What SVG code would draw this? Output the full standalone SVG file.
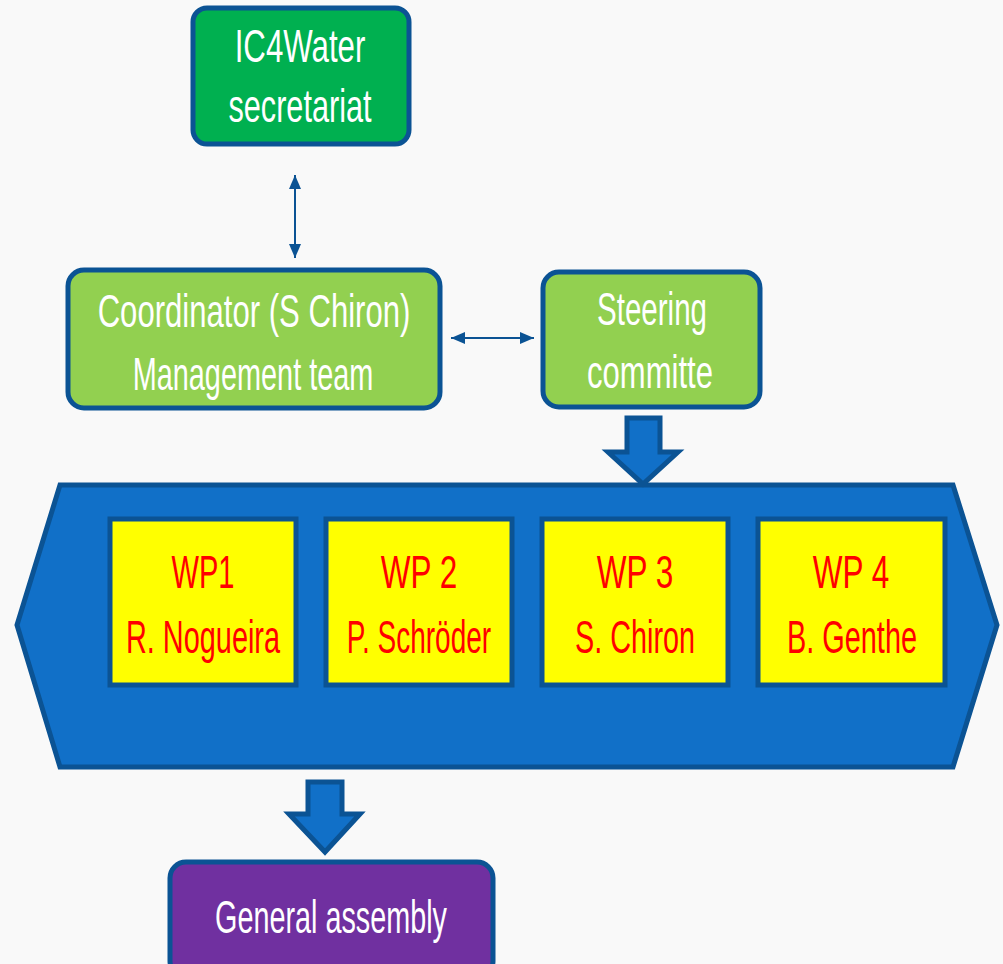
<svg xmlns="http://www.w3.org/2000/svg" width="1003" height="964" viewBox="0 0 1003 964">
<style>
.box{stroke:#0B5394;stroke-width:5}
.green{fill:#00B050}
.lgreen{fill:#92D050}
.purple{fill:#7030A0}
.yellow{fill:#FFFF00;stroke:#0B5394;stroke-width:5}
.blue{fill:#1170C8;stroke:#0B5394;stroke-width:5;stroke-linejoin:miter}
.t{font-family:"Liberation Sans",Arial,sans-serif;font-size:46px;fill:#FFFFFF;text-anchor:middle}
.r{fill:#FF0000}
.conn{stroke:#0B5394;stroke-width:2;fill:none}
</style>
<defs>
<marker id="ah" viewBox="0 0 14 12" refX="14" refY="6" markerWidth="14" markerHeight="12" markerUnits="userSpaceOnUse" orient="auto-start-reverse">
<path d="M0,0 L14,6 L0,12 z" fill="#0B5394"/>
</marker>
</defs>
<rect width="1003" height="964" fill="#F9F9F9"/>

<g id="connectors">
<line class="conn" x1="295" y1="175" x2="295" y2="258" marker-start="url(#ah)" marker-end="url(#ah)"/>
<line class="conn" x1="451" y1="338" x2="534" y2="338" marker-start="url(#ah)" marker-end="url(#ah)"/>
</g>

<g id="secretariat">
<rect class="box green" x="193" y="8" width="216" height="136" rx="14"/>
<text class="t" transform="translate(300,62) scale(0.679,1)">IC4Water</text>
<text class="t" transform="translate(300,122) scale(0.666,1)">secretariat</text>
</g>

<g id="coordinator">
<rect class="box lgreen" x="68" y="270" width="372" height="138" rx="16"/>
<text class="t" transform="translate(254,327) scale(0.676,1)">Coordinator (S Chiron)</text>
<text class="t" transform="translate(253,390) scale(0.628,1)">Management team</text>
</g>

<g id="steering">
<rect class="box lgreen" x="543" y="272" width="217" height="135" rx="16"/>
<text class="t" transform="translate(652,325) scale(0.642,1)">Steering</text>
<text class="t" transform="translate(650,388) scale(0.675,1)">committe</text>
</g>

<g id="workpackages">
<polygon class="blue" points="17,625 60,485 953,485 997,625 953,767 60,767"/>
</g>

<g id="arrow-down-steering">
<polygon class="blue" points="627,418 660,418 660,452 678,452 643,484 608,452 627,452"/>
</g>

<g id="wp1">
<rect class="yellow" x="110" y="519" width="186" height="166"/>
<text class="t r" transform="translate(203,588) scale(0.632,1)">WP1</text>
<text class="t r" transform="translate(203,653) scale(0.628,1)">R. Nogueira</text>
</g>
<g id="wp2">
<rect class="yellow" x="326" y="519" width="186" height="166"/>
<text class="t r" transform="translate(419,588) scale(0.685,1)">WP 2</text>
<text class="t r" transform="translate(419,653) scale(0.609,1)">P. Schröder</text>
</g>
<g id="wp3">
<rect class="yellow" x="542" y="519" width="186" height="166"/>
<text class="t r" transform="translate(635,588) scale(0.685,1)">WP 3</text>
<text class="t r" transform="translate(635,653) scale(0.626,1)">S. Chiron</text>
</g>
<g id="wp4">
<rect class="yellow" x="758" y="519" width="187" height="166"/>
<text class="t r" transform="translate(851,588) scale(0.685,1)">WP 4</text>
<text class="t r" transform="translate(852,653) scale(0.628,1)">B. Genthe</text>
</g>

<g id="arrow-down-assembly">
<polygon class="blue" points="308,782 342,782 342,814 360,814 325,852 289,814 308,814"/>
</g>

<g id="assembly">
<rect class="box purple" x="170" y="862" width="323" height="115" rx="16"/>
<text class="t" transform="translate(331,933) scale(0.626,1)">General assembly</text>
</g>
</svg>
